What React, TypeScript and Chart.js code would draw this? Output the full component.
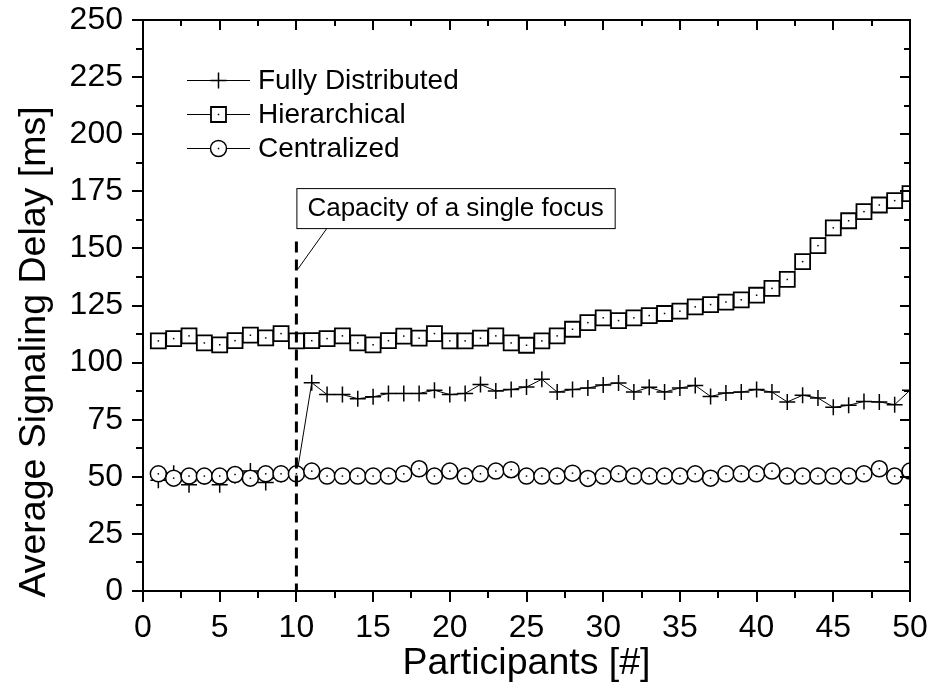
import React, { useEffect, useRef } from "react";
import { Chart, registerables } from "chart.js";

Chart.register(...registerables);

const participants = [
  1, 2, 3, 4, 5, 6, 7, 8, 9, 10, 11, 12, 13, 14, 15, 16, 17, 18, 19, 20, 21, 22, 23, 24, 25,
  26, 27, 28, 29, 30, 31, 32, 33, 34, 35, 36, 37, 38, 39, 40, 41, 42, 43, 44, 45, 46, 47, 48, 49, 50,
];

const fullyDistributed = [
  48.5, 51.5, 46.5, 50, 46.5, 50.5, 52.5, 47.5, 51, 50,
  91.2, 86, 86, 84.2, 85, 86.5, 86.5, 86.5, 87.9, 86,
  86.5, 90.4, 87.6, 88.2, 89.3, 92.7, 87.1, 88.2, 88.9, 90.2,
  91.1, 87.1, 89.2, 87.1, 88.9, 90, 85.2, 86.7, 87.1, 88.2,
  87.1, 82.8, 85.7, 84.5, 80.4, 81.3, 83, 82.8, 81.6, 87.9,
];

const hierarchical = [
  109.5, 110.5, 111.7, 108.6, 107.8, 109.6, 112, 110.8, 112.7, 109.5,
  109.6, 110.5, 111.7, 108.6, 107.8, 109.6, 111.6, 110.7, 112.7, 109.5,
  109.5, 110.7, 111.7, 108.6, 107.6, 109.5, 111.7, 114.6, 117.5, 119.6,
  118.4, 119.6, 120.6, 121.5, 122.5, 124.4, 125.4, 126.5, 127.5, 129.5,
  132.5, 136.4, 144.2, 151.2, 159, 162.1, 166.1, 169, 170.9, 174,
];

const centralized = [
  51.3, 49.4, 50.3, 50.3, 50.3, 51, 49.4, 51.3, 51.3, 51.3,
  52.5, 50.3, 50.3, 50.3, 50.3, 50.3, 51.3, 53.5, 50.3, 52.5,
  50.3, 51.3, 52.5, 53.1, 50.3, 50.3, 50.3, 51.6, 49.3, 50.3,
  51.3, 50.3, 50.3, 50.3, 50.3, 51.3, 49.4, 51.3, 51.3, 51.3,
  52.5, 50.3, 50.3, 50.3, 50.3, 50.3, 51.3, 53.5, 50.3, 52.5,
];

const seriesNames = ["Fully Distributed", "Hierarchical", "Centralized"];
const xTitle = "Participants [#]";
const yTitle = "Average Signaling Delay [ms]";
const annotationText = "Capacity of a single focus";
const capacityX = 10;
const capacityLineTop = 153;

const FONT = "'Liberation Sans', Arial, Helvetica, sans-serif";

function drawMarker(ctx: CanvasRenderingContext2D, style: string, x: number, y: number) {
  ctx.save();
  ctx.strokeStyle = "#000";
  ctx.fillStyle = "#fff";
  if (style === "cross") {
    ctx.lineWidth = 1.5;
    ctx.beginPath();
    ctx.moveTo(x - 8, y);
    ctx.lineTo(x + 8, y);
    ctx.moveTo(x, y - 8);
    ctx.lineTo(x, y + 8);
    ctx.stroke();
  } else if (style === "rect") {
    ctx.lineWidth = 1.8;
    ctx.beginPath();
    ctx.rect(x - 7.5, y - 7.5, 15, 15);
    ctx.fill();
    ctx.stroke();
    ctx.fillStyle = "#000";
    ctx.fillRect(x - 0.75, y - 0.75, 1.5, 1.5);
  } else {
    ctx.lineWidth = 1.5;
    ctx.beginPath();
    ctx.arc(x, y, 8, 0, Math.PI * 2);
    ctx.fill();
    ctx.stroke();
    ctx.fillStyle = "#000";
    ctx.fillRect(x - 0.75, y - 0.75, 1.5, 1.5);
  }
  ctx.restore();
}

const overlayPlugin = {
  id: "overlay",
  afterDatasetsDraw(chart: any) {
    const ctx: CanvasRenderingContext2D = chart.ctx;
    const a = chart.chartArea;
    ctx.save();
    ctx.beginPath();
    ctx.rect(a.left, a.top, a.right - a.left, a.bottom - a.top);
    ctx.clip();
    ctx.fillStyle = "#000";
    [1, 2].forEach((di) => {
      const meta = chart.getDatasetMeta(di);
      meta.data.forEach((p: any) => {
        ctx.fillRect(p.x - 0.75, p.y - 0.75, 1.5, 1.5);
      });
    });
    ctx.restore();
  },
  afterDraw(chart: any) {
    const ctx: CanvasRenderingContext2D = chart.ctx;
    const a = chart.chartArea;
    const xs = chart.scales.x;
    const ys = chart.scales.y;
    ctx.save();

    // dashed capacity line
    const cx = xs.getPixelForValue(capacityX);
    ctx.strokeStyle = "#000";
    ctx.lineWidth = 3;
    ctx.setLineDash([11, 7]);
    ctx.beginPath();
    ctx.moveTo(cx, ys.getPixelForValue(capacityLineTop));
    ctx.lineTo(cx, ys.getPixelForValue(0));
    ctx.stroke();
    ctx.setLineDash([]);

    // frame
    ctx.lineWidth = 2;
    ctx.strokeRect(a.left, a.top, a.right - a.left, a.bottom - a.top);

    // y ticks (left outward, right inward)
    for (let v = 0; v <= 250.001; v += 12.5) {
      const major = Math.abs(v % 25) < 0.001;
      const py = Math.round(ys.getPixelForValue(v));
      ctx.beginPath();
      ctx.moveTo(a.left, py);
      ctx.lineTo(a.left - (major ? 11 : 7), py);
      ctx.moveTo(a.right, py);
      ctx.lineTo(a.right - (major ? 10 : 6), py);
      ctx.stroke();
    }
    // x ticks (bottom outward, top inward)
    for (let v = 0; v <= 50.001; v += 2.5) {
      const major = Math.abs(v % 5) < 0.001;
      const px = Math.round(xs.getPixelForValue(v));
      ctx.beginPath();
      ctx.moveTo(px, a.bottom);
      ctx.lineTo(px, a.bottom + (major ? 11 : 7));
      ctx.moveTo(px, a.top);
      ctx.lineTo(px, a.top + (major ? 10 : 6));
      ctx.stroke();
    }

    // y axis title
    ctx.save();
    ctx.translate(35, 352);
    ctx.rotate(-Math.PI / 2);
    ctx.font = `37.5px ${FONT}`;
    ctx.fillStyle = "#000";
    ctx.textAlign = "center";
    ctx.textBaseline = "middle";
    ctx.fillText(yTitle, 0, 0);
    ctx.restore();

    // annotation box
    ctx.font = `26px ${FONT}`;
    const tw = ctx.measureText(annotationText).width;
    const bx = cx;
    const by = ys.getPixelForValue(176.4);
    const bw = tw + 22;
    const bh = 40;
    ctx.fillStyle = "#fff";
    ctx.fillRect(bx, by, bw, bh);
    ctx.lineWidth = 1;
    ctx.strokeStyle = "#000";
    ctx.strokeRect(bx + 0.5, by + 0.5, bw, bh);
    ctx.fillStyle = "#000";
    ctx.textBaseline = "middle";
    ctx.textAlign = "left";
    ctx.fillText(annotationText, bx + 11, by + bh / 2 + 1);
    ctx.beginPath();
    ctx.moveTo(xs.getPixelForValue(12), by + bh);
    ctx.lineTo(xs.getPixelForValue(10.1), ys.getPixelForValue(141));
    ctx.stroke();

    // legend
    const styles = ["cross", "rect", "circle"];
    const rowsY = [80, 114, 148];
    const lx0 = a.left + 44;
    const lx1 = a.left + 107;
    ctx.font = `28px ${FONT}`;
    styles.forEach((s, i) => {
      const y = rowsY[i];
      ctx.strokeStyle = "#000";
      ctx.lineWidth = 1;
      ctx.beginPath();
      ctx.moveTo(lx0, y + 0.5);
      ctx.lineTo(lx1, y + 0.5);
      ctx.stroke();
      drawMarker(ctx, s, (lx0 + lx1) / 2, y + 0.5);
      ctx.fillStyle = "#000";
      ctx.textBaseline = "middle";
      ctx.fillText(seriesNames[i], lx1 + 8, y + 1);
    });

    ctx.restore();
  },
};

export default function App() {
  const ref = useRef<HTMLCanvasElement>(null);
  useEffect(() => {
    const canvas = ref.current!;
    const mk = (vals: number[]) => participants.map((x, i) => ({ x, y: vals[i] }));
    const chart = new Chart(canvas, {
      type: "line",
      data: {
        datasets: [
          {
            label: seriesNames[0],
            data: mk(fullyDistributed),
            borderColor: "#000",
            borderWidth: 1,
            pointStyle: "cross",
            pointRadius: 8,
            pointBorderWidth: 1.5,
            pointBorderColor: "#000",
            pointBackgroundColor: "#fff",
            order: 3,
            clip: 0,
            tension: 0,
          },
          {
            label: seriesNames[1],
            data: mk(hierarchical),
            borderColor: "#000",
            borderWidth: 1,
            pointStyle: "rect",
            pointRadius: 10.6,
            pointBorderWidth: 1.8,
            pointBorderColor: "#000",
            pointBackgroundColor: "#fff",
            order: 2,
            clip: 0,
            tension: 0,
          },
          {
            label: seriesNames[2],
            data: mk(centralized),
            borderColor: "#000",
            borderWidth: 1,
            pointStyle: "circle",
            pointRadius: 8,
            pointBorderWidth: 1.5,
            pointBorderColor: "#000",
            pointBackgroundColor: "#fff",
            order: 1,
            clip: 0,
            tension: 0,
          },
        ],
      },
      options: {
        responsive: false,
        animation: false,
        devicePixelRatio: 1,
        layout: { padding: { top: 20, right: 23, left: 0, bottom: 0 } },
        plugins: { legend: { display: false }, tooltip: { enabled: false } },
        scales: {
          x: {
            type: "linear",
            min: 0,
            max: 50,
            afterFit: (s: any) => {
              s.height = 104;
              s.paddingLeft = 0;
              s.paddingRight = 0;
            },
            ticks: {
              stepSize: 5,
              padding: 18,
              maxRotation: 0,
              autoSkip: false,
              color: "#000",
              font: { family: FONT, size: 32 },
            },
            grid: { display: false, drawTicks: false },
            border: { display: false },
            title: {
              display: true,
              text: xTitle,
              color: "#000",
              font: { family: FONT, size: 37.5 },
              padding: { top: 0, bottom: 9 },
            },
          },
          y: {
            type: "linear",
            min: 0,
            max: 250,
            afterFit: (s: any) => {
              s.width = 143;
              s.paddingTop = 0;
              s.paddingBottom = 0;
            },
            ticks: {
              stepSize: 25,
              padding: 20,
              color: "#000",
              font: { family: FONT, size: 32 },
            },
            grid: { display: false, drawTicks: false },
            border: { display: false },
            title: { display: false },
          },
        },
      },
      plugins: [overlayPlugin],
    } as any);
    return () => chart.destroy();
  }, []);
  return (
    <div style={{ position: "fixed", left: 0, top: 0, width: 933, height: 695, background: "#fff" }}>
      <canvas ref={ref} width={933} height={695} style={{ width: 933, height: 695, display: "block" }} />
    </div>
  );
}
